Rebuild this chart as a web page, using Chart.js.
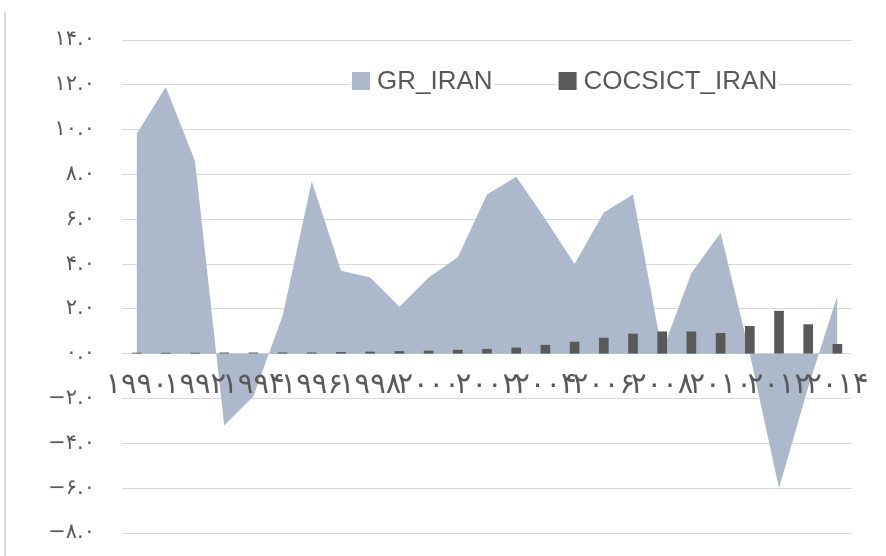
<!DOCTYPE html>
<html><head><meta charset="utf-8">
<script src="https://cdn.jsdelivr.net/npm/chart.js@4/dist/chart.umd.min.js"></script>
<style>
html,body{margin:0;padding:0;background:#fff;}
#wrap{position:relative;width:886px;height:556px;overflow:hidden;}
#frame{position:absolute;left:4px;top:12px;width:2px;height:544px;background:#d9d9d9;}
canvas{position:absolute;left:0;top:0;}
</style></head><body>
<div id="wrap"><div id="frame"></div><canvas id="c" width="886" height="556"></canvas></div>
<script>
const categories = ['۱۹۹۰','۱۹۹۱','۱۹۹۲','۱۹۹۳','۱۹۹۴','۱۹۹۵','۱۹۹۶','۱۹۹۷','۱۹۹۸','۱۹۹۹','۲۰۰۰','۲۰۰۱','۲۰۰۲','۲۰۰۳','۲۰۰۴','۲۰۰۵','۲۰۰۶','۲۰۰۷','۲۰۰۸','۲۰۰۹','۲۰۱۰','۲۰۱۱','۲۰۱۲','۲۰۱۳','۲۰۱۴'];
const grIran = [9.8, 11.9, 8.6, -3.2, -1.9, 1.7, 7.7, 3.7, 3.4, 2.1, 3.4, 4.3, 7.1, 7.9, 6.0, 4.0, 6.3, 7.1, 0.1, 3.6, 5.4, 0.0, -6.0, -1.5, 2.6];
const cocsictIran = [0.03, 0.03, 0.03, 0.04, 0.04, 0.04, 0.04, 0.06, 0.08, 0.10, 0.12, 0.16, 0.20, 0.26, 0.38, 0.52, 0.70, 0.88, 0.98, 0.98, 0.91, 1.22, 1.90, 1.30, 0.42];
const yTickValues = [-8, -6, -4, -2, 0, 2, 4, 6, 8, 10, 12, 14];
const yTickLabels = ['−۸.۰','−۶.۰','−۴.۰','−۲.۰','۰.۰','۲.۰','۴.۰','۶.۰','۸.۰','۱۰.۰','۱۲.۰','۱۴.۰'];

const legendPlugin = {
  id: 'insideLegend',
  afterDraw(chart) {
    const c = chart.ctx;
    c.save();
    c.font = '26px "Liberation Sans", Arial, sans-serif';
    c.textBaseline = 'middle';
    let x = 352;
    const y = 81;
    chart.data.datasets.forEach(ds => {
      const w = c.measureText(ds.label).width;
      c.fillStyle = '#fff';
      c.fillRect(x - 2, y - 14, 18 + 6 + w + 4, 28);
      c.fillStyle = ds.backgroundColor;
      c.fillRect(x, y - 9, 18, 18);
      c.fillStyle = '#595959';
      c.fillText(ds.label, x + 25, y + 1);
      x += 18 + 7 + w + 66;
    });
    c.restore();
  }
};

new Chart(document.getElementById('c'), {
  type: 'bar',
  data: {
    labels: categories,
    datasets: [
      { type: 'line', label: 'GR_IRAN', data: grIran, fill: 'origin', backgroundColor: '#adb9ca',
        borderWidth: 0, borderColor: 'rgba(0,0,0,0)', pointRadius: 0, tension: 0, order: 2 },
      { type: 'bar', label: 'COCSICT_IRAN', data: cocsictIran, backgroundColor: '#595959',
        barThickness: 9, order: 1 }
    ]
  },
  options: {
    responsive: false,
    animation: false,
    devicePixelRatio: 1,
    layout: { padding: { top: 40, right: 34, bottom: 23, left: 0 } },
    plugins: { legend: { display: false }, tooltip: { enabled: false } },
    scales: {
      x: {
        position: { y: 0 },
        offset: true,
        grid: { display: false },
        border: { display: false },
        ticks: {
          z: 1,
          autoSkip: false, maxRotation: 0, minRotation: 0, color: '#595959', padding: 6,
          font: { family: 'DejaVu Sans', size: 29 },
          callback: (v, i) => (i % 2 === 0 ? categories[i] : '')
        },
        afterFit: s => { s.height = 0; }
      },
      y: {
        min: -8, max: 14,
        ticks: {
          stepSize: 2, color: '#595959', padding: 27,
          font: { family: 'DejaVu Sans', size: 21 },
          callback: v => yTickLabels[yTickValues.indexOf(v)]
        },
        grid: { color: '#d9d9d9', lineWidth: 1, drawTicks: false },
        border: { display: false },
        afterFit: s => { s.width = 122; s.paddingTop = 10; s.paddingBottom = 10; }
      }
    }
  },
  plugins: [legendPlugin]
});
</script>
</body></html>
